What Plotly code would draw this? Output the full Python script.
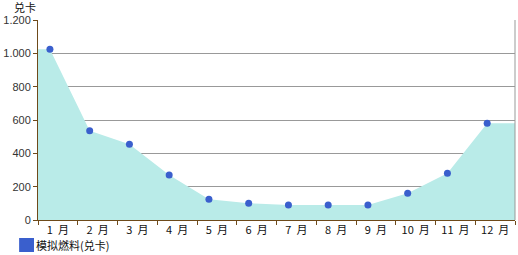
import plotly.graph_objects as go

months = ["1 月", "2 月", "3 月", "4 月", "5 月", "6 月", "7 月", "8 月", "9 月", "10 月", "11 月", "12 月"]
values = [1025, 535, 455, 270, 125, 100, 90, 90, 90, 160, 280, 580]
y_ticks = [0, 200, 400, 600, 800, 1000, 1200]
y_tick_text = ["0", "200", "400", "600", "800", "1.000", "1.200"]
series_name = "模拟燃料(兑卡)"
y_title = "兑卡"

n = len(months)
pt_x = [i + 0.3 for i in range(n)]
area_x = [0] + pt_x + [n]
area_y = [values[0]] + values + [values[-1]]
tick_labels = [m.replace(" ", "\u00a0\u00a0") for m in months]

brown = "#6e4a1a"
fig = go.Figure()
fig.add_trace(go.Scatter(x=area_x, y=area_y, mode="none", fill="tozeroy",
                         fillcolor="#b9ebe8", hoverinfo="skip", showlegend=False))
fig.add_trace(go.Scatter(x=pt_x, y=values, mode="markers",
                         marker=dict(color="#3a5fcd", size=7, line=dict(width=0)),
                         showlegend=False))

fig.update_layout(
    width=518, height=255,
    margin=dict(l=35, r=3, t=20, b=35),
    paper_bgcolor="white", plot_bgcolor="white",
    showlegend=False,
    xaxis=dict(range=[0, n], tickvals=[i + 0.5 for i in range(n)], ticktext=tick_labels,
               ticks="", showgrid=False, zeroline=False, showline=True,
               linecolor=brown, linewidth=1,
               tickfont=dict(family="Noto Sans CJK SC", size=11, color="#111"),
               minor=dict(tick0=0, dtick=1, ticks="outside", ticklen=4,
                          tickcolor=brown, showgrid=False),
               fixedrange=True),
    yaxis=dict(range=[0, 1200], tickvals=y_ticks, ticktext=y_tick_text,
               ticks="outside", ticklen=4, tickcolor=brown,
               showgrid=True, gridcolor="#999999", gridwidth=1,
               zeroline=False, showline=True, linecolor=brown, linewidth=1,
               tickfont=dict(family="Liberation Sans", size=11, color="#333"),
               fixedrange=True),
    shapes=[
        dict(type="line", xref="paper", yref="paper", x0=1, x1=1, y0=0, y1=1,
             line=dict(color="#999999", width=1)),
        dict(type="rect", xref="paper", yref="paper",
             x0=(16 - 35) / 480, x1=(31 - 35) / 480,
             y0=(220 - 238) / 200, y1=(220 - 252) / 200,
             fillcolor="#3a5fcd", line=dict(width=0)),
    ],
    annotations=[
        dict(text=y_title, xref="paper", yref="paper", x=(9 - 35) / 480, y=(220 - 7) / 200,
             xanchor="left", yanchor="middle", showarrow=False,
             font=dict(family="Noto Sans CJK SC", size=11, color="#111")),
        dict(text=series_name, xref="paper", yref="paper", x=(31 - 35) / 480,
             y=(220 - 245) / 200, xanchor="left", yanchor="middle", showarrow=False,
             font=dict(family="Noto Sans CJK SC", size=11, color="#111")),
    ],
)

fig.write_html("out.html")
